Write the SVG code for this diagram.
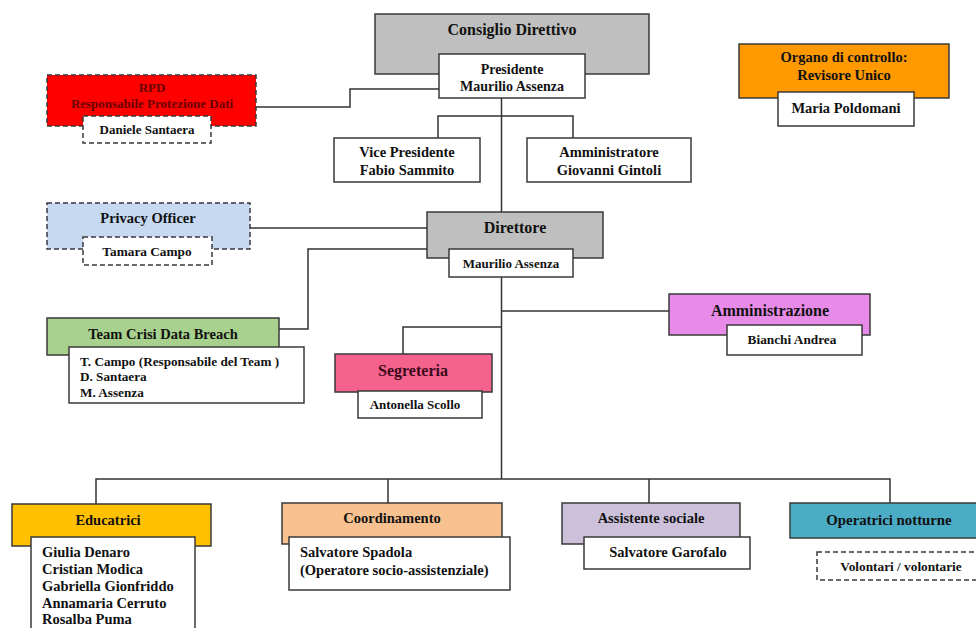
<svg xmlns="http://www.w3.org/2000/svg" width="976" height="628" viewBox="0 0 976 628">
<style>
text{font-family:"Liberation Serif","Times New Roman",serif;font-weight:bold;fill:#111;text-anchor:middle}
.b{stroke:#3a3a3a;stroke-width:1.5}
.d{stroke:#3a3a3a;stroke-width:1.5;stroke-dasharray:5,3}
.w{fill:#fff}
.l{text-anchor:start}
.c line,.c polyline{stroke:#333;stroke-width:1.5;fill:none}
</style>
<rect width="976" height="628" fill="#fff"/>
<g class="c" id="connectors">
<line x1="501.5" y1="98" x2="501.5" y2="212"/>
<polyline points="438,138 438,116 573,116 573,138"/>
<polyline points="256,107 350,107 350,89 439,89"/>
<line x1="250" y1="228" x2="427" y2="228"/>
<polyline points="279,329 308,329 308,249 427,249"/>
<line x1="501.5" y1="277" x2="501.5" y2="479"/>
<line x1="501.5" y1="311" x2="669" y2="311"/>
<polyline points="501.5,327 403,327 403,354"/>
<polyline points="96,504 96,479 890,479 890,503"/>
<line x1="388" y1="479" x2="388" y2="503"/>
<line x1="649" y1="479" x2="649" y2="503"/>
</g>
<g id="consiglio">
<rect class="b" x="375" y="14" width="274" height="60" fill="#bfbfbf"/>
<text x="512" y="35" font-size="16">Consiglio Direttivo</text>
<rect class="b w" x="439" y="54" width="146" height="44"/>
<text x="512" y="74" font-size="14">Presidente</text>
<text x="512" y="91" font-size="14">Maurilio Assenza</text>
</g>
<g id="rpd">
<rect class="d" x="47" y="75" width="209" height="51" fill="#ff0000"/>
<text x="152" y="92" font-size="13" style="fill:#6a0000">RPD</text>
<text x="152" y="108" font-size="13" style="fill:#6a0000">Responsabile Protezione Dati</text>
<rect class="d w" x="83" y="116" width="128" height="27"/>
<text x="147" y="134" font-size="13">Daniele Santaera</text>
</g>
<g id="organo">
<rect class="b" x="739" y="44" width="210" height="54" fill="#ff9900"/>
<text x="844" y="62" font-size="14.5">Organo di controllo:</text>
<text x="844" y="80" font-size="14.5">Revisore Unico</text>
<rect class="b w" x="778" y="92" width="136" height="34"/>
<text x="846" y="113" font-size="14.5">Maria Poldomani</text>
</g>
<g id="vice">
<rect class="b w" x="334" y="138" width="146" height="44"/>
<text x="407" y="157" font-size="14.5">Vice Presidente</text>
<text x="407" y="175" font-size="14.5">Fabio Sammito</text>
</g>
<g id="amministratore">
<rect class="b w" x="527" y="138" width="164" height="44"/>
<text x="609" y="157" font-size="14.5">Amministratore</text>
<text x="609" y="175" font-size="14.5">Giovanni Gintoli</text>
</g>
<g id="privacy">
<rect class="d" x="47" y="203" width="203" height="46" fill="#c6d9f1"/>
<text x="148" y="223" font-size="14.5">Privacy Officer</text>
<rect class="d w" x="83" y="237" width="129" height="28"/>
<text x="147" y="256" font-size="13.3">Tamara Campo</text>
</g>
<g id="direttore">
<rect class="b" x="427" y="212" width="176" height="46" fill="#bfbfbf"/>
<text x="515" y="233" font-size="16">Direttore</text>
<rect class="b w" x="449" y="249" width="124" height="28"/>
<text x="511" y="268" font-size="13">Maurilio Assenza</text>
</g>
<g id="team">
<rect class="b" x="47" y="318" width="232" height="37" fill="#a9d18e"/>
<text x="163" y="339" font-size="14.5">Team Crisi Data Breach</text>
<rect class="b w" x="69" y="347" width="235" height="56"/>
<text class="l" x="80" y="366" font-size="13.2">T. Campo (Responsabile del Team )</text>
<text class="l" x="80" y="381" font-size="13.2">D. Santaera</text>
<text class="l" x="80" y="397" font-size="13.2">M. Assenza</text>
</g>
<g id="amministrazione">
<rect class="b" x="669" y="294" width="201" height="41" fill="#e88ae8"/>
<text x="770" y="316" font-size="16">Amministrazione</text>
<rect class="b w" x="727" y="325" width="135" height="30"/>
<text x="792" y="344" font-size="13.3">Bianchi Andrea</text>
</g>
<g id="segreteria">
<rect class="b" x="335" y="354" width="157" height="38" fill="#f6628e"/>
<text x="413" y="376" font-size="16" style="fill:#3a0a1a">Segreteria</text>
<rect class="b w" x="358" y="391" width="124" height="27"/>
<text x="415" y="409" font-size="13">Antonella Scollo</text>
</g>
<g id="educatrici">
<rect class="b" x="12" y="504" width="199" height="42" fill="#ffc000"/>
<text x="108" y="525" font-size="14.5">Educatrici</text>
<rect class="b w" x="31" y="537" width="164" height="100"/>
<text class="l" x="42" y="557" font-size="14.5">Giulia Denaro</text>
<text class="l" x="42" y="574" font-size="14.5">Cristian Modica</text>
<text class="l" x="42" y="591" font-size="14.5">Gabriella Gionfriddo</text>
<text class="l" x="42" y="608" font-size="14.5">Annamaria Cerruto</text>
<text class="l" x="42" y="624" font-size="14.5">Rosalba Puma</text>
</g>
<g id="coordinamento">
<rect class="b" x="282" y="503" width="220" height="41" fill="#f8c190"/>
<text x="392" y="523" font-size="14.5">Coordinamento</text>
<rect class="b w" x="289" y="537" width="221" height="53"/>
<text class="l" x="300" y="557" font-size="14.5">Salvatore Spadola</text>
<text class="l" x="300" y="575" font-size="14.5">(Operatore socio-assistenziale)</text>
</g>
<g id="assistente">
<rect class="b" x="562" y="503" width="178" height="41" fill="#ccc0da"/>
<text x="651" y="523" font-size="14.5">Assistente sociale</text>
<rect class="b w" x="584" y="537" width="166" height="32"/>
<text x="668" y="557" font-size="14.5">Salvatore Garofalo</text>
</g>
<g id="operatrici">
<rect class="b" x="790" y="503" width="200" height="35" fill="#4bacc6"/>
<text x="889" y="525" font-size="14.8">Operatrici notturne</text>
<rect class="d w" x="817" y="552" width="170" height="28"/>
<text x="901" y="571" font-size="13.3">Volontari / volontarie</text>
</g>
</svg>
